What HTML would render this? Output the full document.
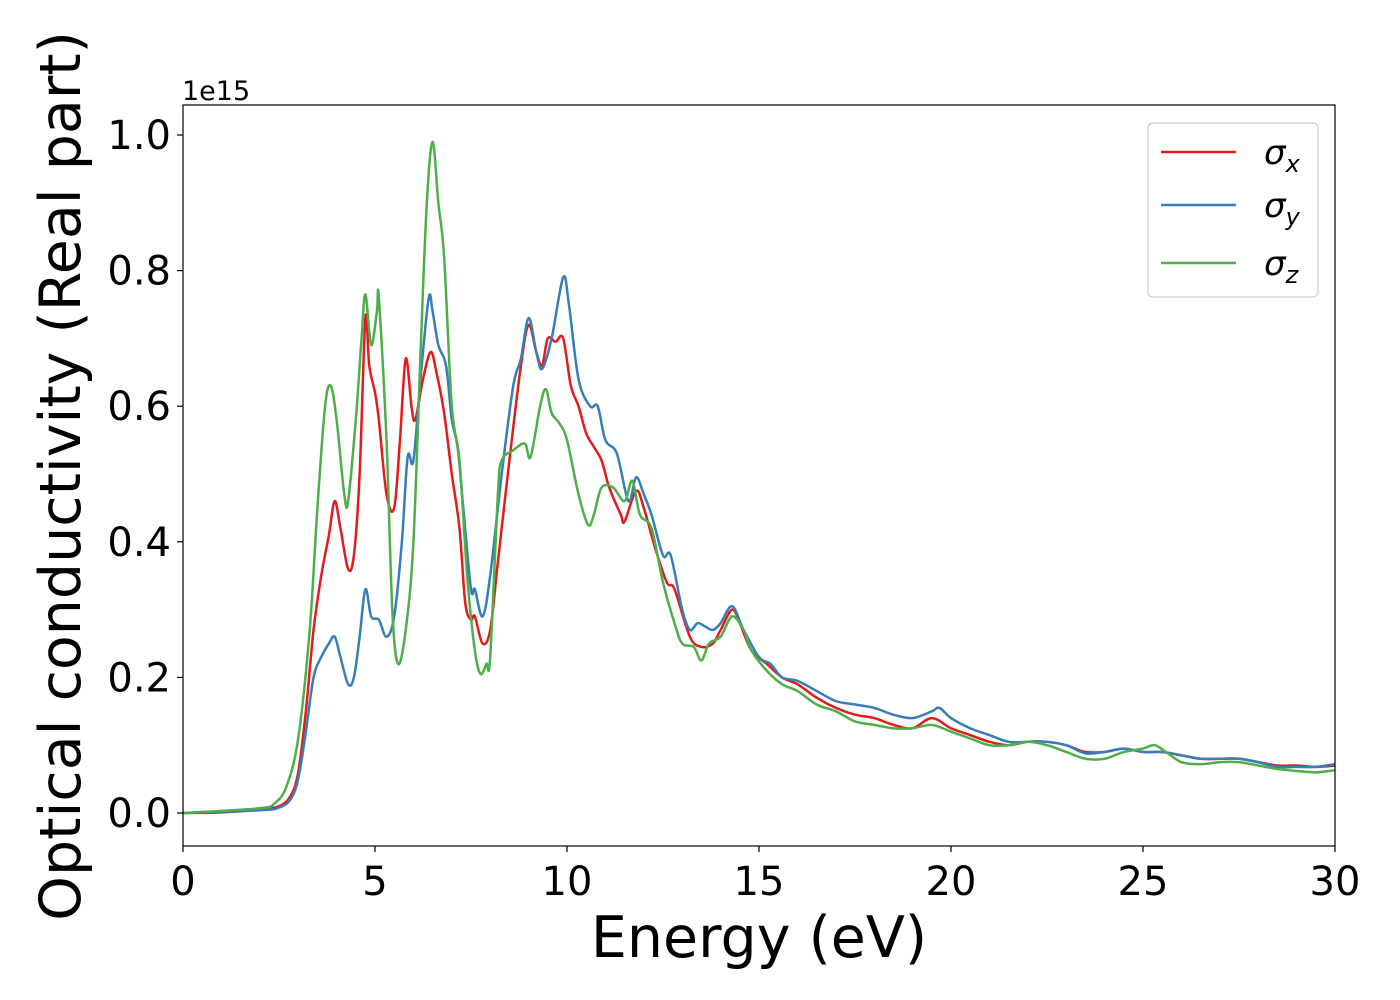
<!DOCTYPE html>
<html><head><meta charset="utf-8"><style>
html,body{margin:0;padding:0;background:#fff;}
svg{display:block;font-family:"DejaVu Sans","Liberation Sans",sans-serif;}
</style></head><body>
<svg id="chart" width="1400" height="1000" viewBox="0 0 1400 1000" xmlns="http://www.w3.org/2000/svg">
<rect x="0" y="0" width="1400" height="1000" fill="#fff"/>
<g id="plot"></g>
<g id="xticks"></g>
<g id="yticks"></g>
<rect x="183" y="105" width="1152" height="741" fill="none" stroke="#000" stroke-width="1.2"/>
<text x="182" y="100" font-size="27">1e15</text>
<text x="759" y="957" font-size="57" text-anchor="middle">Energy (eV)</text>
<text transform="translate(80,476) rotate(-90)" font-size="57" text-anchor="middle">Optical conductivity (Real part)</text>
<g>
<rect x="1148" y="123" width="170" height="174" rx="5" fill="#fff" stroke="#ccc" stroke-width="1.2"/>
<g><line x1="1161" y1="152" x2="1236" y2="152" stroke="#e41a1c" stroke-width="2.5"/><text x="1264" y="164" font-size="34" font-style="italic">σ<tspan font-size="24" dy="8">x</tspan></text></g>
<g><line x1="1161" y1="205" x2="1236" y2="205" stroke="#377eb8" stroke-width="2.5"/><text x="1264" y="217" font-size="34" font-style="italic">σ<tspan font-size="24" dy="8">y</tspan></text></g>
<g><line x1="1161" y1="263" x2="1236" y2="263" stroke="#4daf4a" stroke-width="2.5"/><text x="1264" y="275" font-size="34" font-style="italic">σ<tspan font-size="24" dy="8">z</tspan></text></g>
</g>
</svg>
<script>
const xTicks=[0,5,10,15,20,25,30];
const yTicks=[0.0,0.2,0.4,0.6,0.8,1.0];
const eX=[0,1,2,2.5,2.8,3.0,3.2,3.4,3.6,3.8,3.95,4.1,4.3,4.45,4.6,4.75,4.85,5.0,5.1,5.3,5.5,5.65,5.8,5.95,6.05,6.25,6.45,6.6,6.8,7.0,7.2,7.35,7.5,7.6,7.8,8.0,8.2,8.5,8.8,9.0,9.2,9.35,9.5,9.7,9.9,10.1,10.3,10.5,10.7,10.9,11.1,11.4,11.5,11.8,12.0,12.3,12.6,12.8,13.2,13.5,13.8,14.0,14.3,14.5,14.8,15.2,15.6,16,16.5,17,17.5,18,18.5,19,19.5,20,20.5,21,21.5,22,22.5,23,23.5,24,24.5,25,25.5,26,26.5,27,27.5,28,28.5,29,29.5,30];
const sigmaX=[0,0.001,0.005,0.01,0.025,0.06,0.15,0.27,0.35,0.41,0.46,0.42,0.36,0.38,0.5,0.73,0.66,0.62,0.58,0.47,0.45,0.55,0.67,0.6,0.58,0.64,0.68,0.65,0.59,0.5,0.42,0.31,0.285,0.29,0.25,0.27,0.37,0.52,0.66,0.72,0.68,0.66,0.7,0.695,0.70,0.63,0.6,0.56,0.54,0.52,0.48,0.44,0.43,0.475,0.45,0.39,0.34,0.33,0.26,0.245,0.25,0.27,0.3,0.28,0.24,0.22,0.2,0.19,0.17,0.155,0.145,0.14,0.13,0.125,0.14,0.125,0.115,0.105,0.1,0.105,0.105,0.1,0.09,0.09,0.095,0.09,0.09,0.085,0.08,0.08,0.08,0.075,0.07,0.07,0.068,0.07];
const eY=[0,2,2.5,2.8,3.0,3.2,3.4,3.6,3.8,3.95,4.1,4.3,4.45,4.6,4.75,4.9,5.1,5.3,5.5,5.7,5.85,6.0,6.2,6.4,6.5,6.65,6.85,7.0,7.15,7.3,7.5,7.6,7.8,8.0,8.3,8.6,8.8,9.0,9.2,9.35,9.6,9.9,10.05,10.3,10.6,10.8,11.0,11.3,11.6,11.8,12.0,12.2,12.5,12.7,13.0,13.2,13.4,13.6,13.8,14.0,14.3,14.6,15.0,15.3,15.6,16,16.5,17,17.5,18,18.5,19,19.5,19.7,20,20.5,21,21.5,22,22.5,23,23.5,24,24.5,25,25.5,26,26.5,27,27.5,28,28.5,29,29.5,30];
const sigmaY=[0,0.004,0.008,0.02,0.05,0.12,0.2,0.23,0.25,0.26,0.23,0.19,0.2,0.26,0.33,0.29,0.285,0.26,0.29,0.4,0.525,0.52,0.65,0.76,0.74,0.69,0.66,0.58,0.54,0.45,0.33,0.33,0.29,0.35,0.5,0.63,0.67,0.73,0.68,0.655,0.7,0.79,0.75,0.64,0.6,0.6,0.55,0.53,0.46,0.495,0.47,0.44,0.38,0.38,0.3,0.27,0.28,0.275,0.27,0.28,0.305,0.27,0.23,0.22,0.2,0.195,0.18,0.165,0.16,0.155,0.145,0.14,0.15,0.155,0.14,0.125,0.115,0.105,0.105,0.105,0.1,0.088,0.09,0.095,0.09,0.09,0.085,0.08,0.08,0.08,0.075,0.068,0.068,0.068,0.072];
const eZ=[0,2,2.4,2.7,3.0,3.3,3.5,3.7,3.85,4.0,4.2,4.3,4.5,4.65,4.75,4.9,5.05,5.1,5.3,5.45,5.6,5.8,6.0,6.2,6.35,6.5,6.65,6.8,7.0,7.2,7.4,7.6,7.75,7.9,8.0,8.2,8.3,8.6,8.9,9.05,9.3,9.45,9.6,9.8,10.0,10.3,10.55,10.7,10.9,11.2,11.5,11.7,11.9,12.2,12.5,12.8,13.0,13.3,13.5,13.7,14.0,14.3,14.6,14.8,15.2,15.6,16,16.5,17,17.5,18,18.5,19,19.5,20,20.5,21,21.5,22,22.5,23,23.5,24,24.5,25,25.3,25.6,26,26.5,27,27.5,28,28.5,29,29.5,30];
const sigmaZ=[0,0.007,0.015,0.04,0.11,0.27,0.45,0.6,0.63,0.58,0.47,0.46,0.58,0.7,0.765,0.69,0.74,0.76,0.55,0.3,0.22,0.27,0.4,0.7,0.9,0.99,0.9,0.82,0.6,0.52,0.35,0.24,0.205,0.22,0.23,0.47,0.52,0.535,0.545,0.525,0.6,0.625,0.59,0.575,0.55,0.47,0.425,0.44,0.48,0.48,0.46,0.49,0.44,0.42,0.34,0.28,0.25,0.245,0.225,0.25,0.26,0.29,0.27,0.24,0.21,0.19,0.18,0.16,0.15,0.135,0.13,0.125,0.125,0.13,0.12,0.11,0.1,0.1,0.105,0.1,0.09,0.08,0.08,0.09,0.095,0.1,0.09,0.075,0.072,0.075,0.075,0.07,0.065,0.062,0.06,0.063];

const X0=183,X1=1335,Y0=813,PX_PER=678;
function sx(e){return X0+(e-0)/(30-0)*(X1-X0);}
function sy(v){return Y0-v*PX_PER;}
const NS="http://www.w3.org/2000/svg";
const plot=document.getElementById('plot');
function smoothPath(xs,ys){
  const p=xs.map((e,i)=>[sx(e),sy(ys[i])]);
  let d="M"+p[0][0].toFixed(2)+","+p[0][1].toFixed(2);
  for(let i=0;i<p.length-1;i++){
    const a=p[Math.max(0,i-1)],b=p[i],c=p[i+1],n=p[Math.min(p.length-1,i+2)];
    const c1=[b[0]+(c[0]-a[0])/6,b[1]+(c[1]-a[1])/6];
    const c2=[c[0]-(n[0]-b[0])/6,c[1]-(n[1]-b[1])/6];
    c1[0]=Math.min(Math.max(c1[0],b[0]),c[0]);c2[0]=Math.min(Math.max(c2[0],b[0]),c[0]);
    d+=" C"+c1[0].toFixed(2)+","+c1[1].toFixed(2)+" "+c2[0].toFixed(2)+","+c2[1].toFixed(2)+" "+c[0].toFixed(2)+","+c[1].toFixed(2);
  }
  return d;
}
const series=[[eX,sigmaX,'#e41a1c','series-sigma-x'],[eY,sigmaY,'#377eb8','series-sigma-y'],[eZ,sigmaZ,'#4daf4a','series-sigma-z']];
for(const s of series){
  const path=document.createElementNS(NS,'path');
  path.setAttribute('d',smoothPath(s[0],s[1]));
  path.setAttribute('fill','none');
  path.setAttribute('stroke',s[2]);
  path.setAttribute('stroke-width','2.5');
  
  
  plot.appendChild(path);
}
const xg=document.getElementById('xticks');
for(const t of xTicks){
  const l=document.createElementNS(NS,'line');
  l.setAttribute('x1',sx(t));l.setAttribute('x2',sx(t));l.setAttribute('y1',846);l.setAttribute('y2',852);
  l.setAttribute('stroke','#000');l.setAttribute('stroke-width','1.2');
  
  
  xg.appendChild(l);
  const tx=document.createElementNS(NS,'text');
  tx.setAttribute('x',sx(t));tx.setAttribute('y',895);tx.setAttribute('font-size','40');tx.setAttribute('text-anchor','middle');
  tx.textContent=String(t);
  
  
  xg.appendChild(tx);
}
const yg=document.getElementById('yticks');
for(const t of yTicks){
  const l=document.createElementNS(NS,'line');
  l.setAttribute('x1',177);l.setAttribute('x2',183);l.setAttribute('y1',sy(t));l.setAttribute('y2',sy(t));
  l.setAttribute('stroke','#000');l.setAttribute('stroke-width','1.2');
  
  
  yg.appendChild(l);
  const tx=document.createElementNS(NS,'text');
  tx.setAttribute('x',171);tx.setAttribute('y',sy(t)+14);tx.setAttribute('font-size','40');tx.setAttribute('text-anchor','end');
  tx.textContent=t.toFixed(1);
  
  
  yg.appendChild(tx);
}
</script>
</body></html>
